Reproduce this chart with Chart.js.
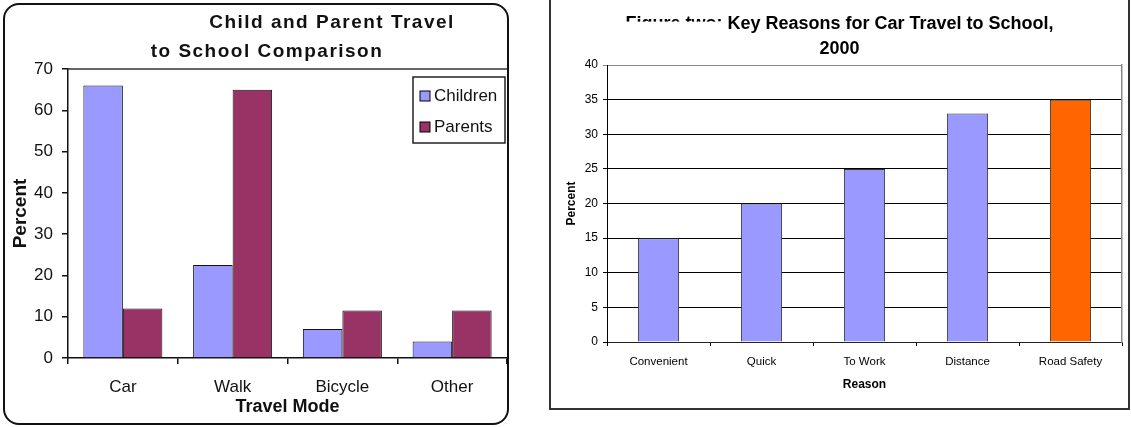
<!DOCTYPE html>
<html>
<head>
<meta charset="utf-8">
<script src="https://cdn.jsdelivr.net/npm/chart.js@4.4.1/dist/chart.umd.min.js"></script>
<style>
  body { margin: 0; background: #fff; width: 1131px; height: 427px; overflow: hidden; position: relative; }
  #frameA { position: absolute; left: 3px; top: 3px; width: 506px; height: 422px; box-sizing: border-box;
            border: 2px solid #111; border-radius: 16px; }
  #frameB { position: absolute; left: 549px; top: -3px; width: 581px; height: 413px; box-sizing: border-box;
            border: 2px solid #333; }
  canvas { position: absolute; left: 0; top: 0; }
</style>
</head>
<body>
<div id="frameA"><canvas id="travelChart" width="502" height="418"></canvas></div>
<div id="frameB"><canvas id="reasonChart" width="577" height="409"></canvas></div>
<script>
// dados do grafico 1
const modes = ['Car', 'Walk', 'Bicycle', 'Other'];
const children = [66, 22.5, 7, 4];
const parents = [12, 65, 11.5, 11.5];

// dados do grafico 2
const reasons = ['Convenient', 'Quick', 'To Work', 'Distance', 'Road Safety'];
const reasonPct = [15, 20, 25, 33, 35];

Chart.defaults.font.family = '"Liberation Sans", Arial, sans-serif';
Chart.defaults.color = '#000';
Chart.defaults.animation = false;

// titulo em duas linhas, com a primeira deslocada pra direita
const titleLeft = {
    id: 'titleLeft',
    afterDraw(chart) {
        const ctx = chart.ctx;
        ctx.save();
        ctx.font = 'bold 19px "Liberation Sans", Arial, sans-serif';
        ctx.letterSpacing = '1.5px';
        ctx.fillStyle = '#111';
        ctx.textAlign = 'center';
        ctx.textBaseline = 'middle';
        ctx.fillText('Child and Parent Travel', 327, 18);
        ctx.fillText('to School Comparison', 262, 47);
        ctx.restore();
    }
};

// borda de cima e legenda dentro da area do grafico
const boxLegend = {
    id: 'boxLegend',
    afterDraw(chart) {
        const ctx = chart.ctx;
        const area = chart.chartArea;
        ctx.save();
        ctx.strokeStyle = '#333';
        ctx.lineWidth = 1.5;
        ctx.beginPath();
        ctx.moveTo(area.left, area.top);
        ctx.lineTo(area.right, area.top);
        ctx.stroke();

        const x = area.right - 94, y = area.top + 8, w = 92, h = 66;
        ctx.fillStyle = '#fff';
        ctx.fillRect(x, y, w, h);
        ctx.strokeStyle = '#222';
        ctx.lineWidth = 1.5;
        ctx.strokeRect(x, y, w, h);
        ctx.font = '17px "Liberation Sans", Arial, sans-serif';
        ctx.textBaseline = 'middle';
        chart.data.datasets.forEach((ds, i) => {
            const cy = y + 19 + i * 31;
            ctx.fillStyle = ds.backgroundColor;
            ctx.fillRect(x + 7, cy - 5, 10, 10);
            ctx.strokeStyle = '#000';
            ctx.lineWidth = 1;
            ctx.strokeRect(x + 7, cy - 5, 10, 10);
            ctx.fillStyle = '#111';
            ctx.fillText(ds.label, x + 21, cy);
        });
        ctx.restore();
    }
};

const ctxTravel = document.getElementById('travelChart').getContext('2d');
const chartTravel = new Chart(ctxTravel, {
    type: 'bar',
    data: {
        labels: modes,
        datasets: [{
            label: 'Children',
            data: children,
            backgroundColor: '#9999FF',
            borderColor: '#111',
            borderWidth: 1
        }, {
            label: 'Parents',
            data: parents,
            backgroundColor: '#993366',
            borderColor: '#111',
            borderWidth: 1
        }]
    },
    options: {
        responsive: false,
        categoryPercentage: 0.72,
        barPercentage: 1,
        layout: { padding: { top: 64, left: 0, right: 0, bottom: 0 } },
        plugins: { legend: { display: false }, tooltip: { enabled: false } },
        scales: {
            x: {
                grid: { drawOnChartArea: false, tickLength: 6, color: '#111', lineWidth: 1.5 },
                border: { color: '#111', width: 1.5 },
                ticks: { font: { size: 17 }, padding: 13, color: '#111' },
                title: { display: true, text: 'Travel Mode', font: { size: 18, weight: 'bold' }, padding: { bottom: 5 }, color: '#111' },
                afterFit(scale) { scale.height = 65; }
            },
            y: {
                min: 0,
                max: 70,
                grid: { drawOnChartArea: false, tickLength: 6, color: '#111', lineWidth: 1.5 },
                border: { color: '#111', width: 1.5 },
                ticks: { stepSize: 10, font: { size: 17 }, padding: 9, color: '#111' },
                title: { display: true, text: 'Percent', font: { size: 19, weight: 'bold' }, padding: { top: 4 }, color: '#111' },
                afterFit(scale) { scale.width = 63; }
            }
        }
    },
    plugins: [titleLeft, boxLegend]
});

// esconde a parte de baixo do "Figure two:" como na imagem
const coverPrefix = {
    id: 'coverPrefix',
    afterDraw(chart) {
        const ctx = chart.ctx;
        const t = chart.titleBlock;
        ctx.save();
        ctx.font = 'bold 18px "Liberation Sans", Arial, sans-serif';
        const full = ctx.measureText(chart.options.plugins.title.text[0]).width;
        const pre = ctx.measureText('Figure two: ').width;
        const cx = (t.left + t.right) / 2;
        const cy = t.top + 12 + 25.2 / 2;
        ctx.fillStyle = '#fff';
        ctx.fillRect(cx - full / 2 - 3, cy - 2, pre, 18);
        ctx.restore();
    }
};

const ctxReason = document.getElementById('reasonChart').getContext('2d');
const chartReason = new Chart(ctxReason, {
    type: 'bar',
    data: {
        labels: reasons,
        datasets: [{
            label: 'Percent',
            data: reasonPct,
            backgroundColor: ['#9999FF', '#9999FF', '#9999FF', '#9999FF', '#FF6600'],
            borderColor: '#333',
            borderWidth: 1
        }]
    },
    options: {
        responsive: false,
        categoryPercentage: 1,
        barPercentage: 0.4,
        layout: { padding: 0 },
        plugins: {
            legend: { display: false },
            tooltip: { enabled: false },
            title: {
                display: true,
                text: ['Figure two: Key Reasons for Car Travel to School,', '2000'],
                font: { size: 18, weight: 'bold', lineHeight: 1.4 },
                padding: { top: 12, bottom: 3.6 },
                color: '#000'
            }
        },
        scales: {
            x: {
                grid: { drawOnChartArea: false, tickLength: 4, color: '#000' },
                border: { color: '#222' },
                ticks: { font: { size: 11.5 }, padding: 8.5, color: '#000' },
                title: { display: true, text: 'Reason', font: { size: 12, weight: 'bold' }, padding: { bottom: 16 } },
                afterFit(scale) { scale.height = 66; }
            },
            y: {
                min: 0,
                max: 40,
                grid: {
                    tickLength: 4,
                    color: (c) => c.tick && c.tick.value === 40 ? '#888' : '#000'
                },
                border: { color: '#000' },
                ticks: { stepSize: 5, font: { size: 12 }, padding: 5, color: '#000' },
                title: { display: true, text: 'Percent', font: { size: 12, weight: 'bold' }, padding: { top: 13 } },
                afterFit(scale) { scale.width = 56; }
            },
            y2: {
                position: 'right',
                min: 0,
                max: 40,
                grid: { drawOnChartArea: false, drawTicks: false },
                border: { color: '#888', width: 1.5 },
                ticks: { display: false },
                afterFit(scale) { scale.width = 6; }
            }
        }
    },
    plugins: [coverPrefix]
});
</script>
</body>
</html>
